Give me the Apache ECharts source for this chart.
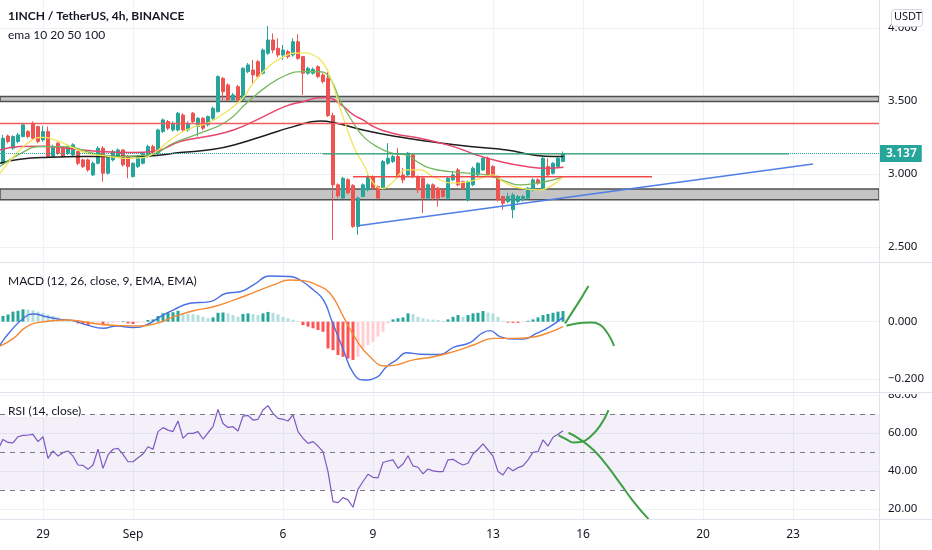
<!DOCTYPE html>
<html>
<head>
<meta charset="utf-8">
<script src="https://cdn.jsdelivr.net/npm/echarts@6/dist/echarts.min.js"></script>
<style>html,body{margin:0;padding:0;background:#fff}#chart{width:932px;height:550px}</style>
</head>
<body>
<div id="chart"></div>
<script>
const FONT = 'Noto Sans';

// x is counted in 4h bars from Sep 1 00:00
const dayTicks = [-18, 0, 30, 48, 72, 90, 114, 132];
const dayLabels = ['29', 'Sep', '6', '9', '13', '16', '20', '23'];
const priceTicks = [2.5, 3.0, 3.5, 4.0];
const macdTicks = [-0.2, 0];
const rsiTicks = [20, 40, 60, 80];

// candles [open, close, low, high], first one at bar -26
const firstBar = -26;
const candles = [
  [3.073, 3.244, 3.062, 3.267], [3.260, 3.222, 3.210, 3.270], [3.176, 3.256, 3.165, 3.265], [3.222, 3.267, 3.210, 3.280],
  [3.256, 3.336, 3.250, 3.350], [3.290, 3.256, 3.245, 3.300], [3.347, 3.244, 3.235, 3.360], [3.324, 3.222, 3.210, 3.330],
  [3.233, 3.290, 3.220, 3.330], [3.290, 3.119, 3.110, 3.325], [3.119, 3.187, 3.110, 3.200], [3.210, 3.142, 3.130, 3.220],
  [3.176, 3.119, 3.110, 3.190], [3.142, 3.187, 3.130, 3.200], [3.130, 3.199, 3.120, 3.210], [3.153, 3.073, 3.060, 3.165],
  [3.096, 3.050, 3.040, 3.105], [3.096, 3.027, 3.015, 3.105], [2.993, 3.073, 2.985, 3.085], [3.073, 3.176, 3.065, 3.190],
  [3.176, 3.005, 2.947, 3.190], [3.005, 3.119, 2.995, 3.130], [3.096, 3.153, 3.085, 3.165], [3.119, 3.164, 3.110, 3.175],
  [3.164, 3.062, 3.050, 3.170], [3.119, 3.050, 2.970, 3.130], [2.982, 3.073, 2.975, 3.080], [3.050, 3.119, 3.040, 3.130],
  [3.073, 3.142, 3.065, 3.150], [3.119, 3.187, 3.110, 3.200], [3.187, 3.142, 3.130, 3.200], [3.142, 3.301, 3.130, 3.310],
  [3.290, 3.370, 3.280, 3.380], [3.359, 3.313, 3.300, 3.370], [3.301, 3.347, 3.290, 3.360], [3.301, 3.416, 3.290, 3.425],
  [3.404, 3.301, 3.290, 3.415], [3.301, 3.347, 3.290, 3.360], [3.416, 3.359, 3.350, 3.425], [3.324, 3.381, 3.256, 3.390],
  [3.381, 3.313, 3.300, 3.390], [3.336, 3.393, 3.325, 3.400], [3.381, 3.450, 3.370, 3.460], [3.427, 3.667, 3.420, 3.675],
  [3.655, 3.564, 3.507, 3.665], [3.610, 3.507, 3.500, 3.620], [3.507, 3.541, 3.495, 3.555], [3.598, 3.507, 3.495, 3.610],
  [3.507, 3.724, 3.500, 3.730], [3.701, 3.747, 3.690, 3.760], [3.712, 3.678, 3.621, 3.781], [3.769, 3.667, 3.655, 3.780],
  [3.690, 3.849, 3.680, 3.860], [3.827, 3.918, 3.815, 4.014], [3.918, 3.849, 3.827, 3.963], [3.861, 3.815, 3.800, 3.930],
  [3.815, 3.849, 3.781, 3.884], [3.838, 3.804, 3.790, 3.850], [3.815, 3.906, 3.804, 3.929], [3.906, 3.792, 3.781, 3.957],
  [3.804, 3.690, 3.541, 3.810], [3.690, 3.724, 3.680, 3.735], [3.690, 3.717, 3.680, 3.730], [3.735, 3.667, 3.655, 3.745],
  [3.678, 3.633, 3.620, 3.690], [3.655, 3.400, 3.390, 3.700], [3.400, 2.925, 2.548, 3.420], [2.925, 2.850, 2.834, 2.935],
  [2.834, 2.970, 2.830, 2.980], [2.960, 2.870, 2.860, 2.970], [2.920, 2.640, 2.630, 2.930], [2.639, 2.834, 2.582, 2.845],
  [2.845, 2.925, 2.840, 2.935], [2.890, 2.982, 2.880, 2.990], [2.982, 2.902, 2.890, 2.990], [2.913, 2.834, 2.825, 2.920],
  [2.902, 3.085, 2.890, 3.095], [3.073, 3.107, 3.062, 3.210], [3.085, 3.119, 3.075, 3.130], [3.119, 2.982, 2.970, 3.176],
  [2.993, 2.959, 2.936, 3.039], [2.993, 3.142, 2.980, 3.150], [3.130, 2.982, 2.970, 3.140], [2.982, 2.890, 2.870, 2.990],
  [2.970, 2.834, 2.731, 2.980], [2.834, 2.925, 2.820, 2.935], [2.925, 2.834, 2.820, 2.935], [2.902, 2.834, 2.776, 2.910],
  [2.890, 2.845, 2.835, 2.900], [2.834, 2.970, 2.825, 2.980], [2.959, 2.993, 2.950, 3.020], [3.027, 2.925, 2.915, 3.040],
  [2.947, 2.902, 2.890, 2.955], [2.822, 2.947, 2.810, 2.955], [2.925, 3.039, 2.915, 3.050], [2.993, 3.073, 2.985, 3.080],
  [3.027, 3.107, 3.020, 3.120], [3.107, 2.993, 2.985, 3.119], [3.050, 2.982, 2.975, 3.060], [2.982, 2.822, 2.810, 2.990],
  [2.845, 2.799, 2.754, 2.850], [2.811, 2.845, 2.799, 2.870], [2.754, 2.856, 2.696, 2.870], [2.811, 2.845, 2.800, 2.855],
  [2.822, 2.845, 2.810, 2.855], [2.834, 2.902, 2.825, 2.910], [2.890, 2.959, 2.880, 2.970], [2.959, 2.936, 2.925, 2.970],
  [2.902, 3.107, 2.890, 3.119], [3.050, 2.993, 2.985, 3.107], [3.005, 3.073, 2.995, 3.080], [3.050, 3.107, 3.040, 3.115],
  [3.085, 3.137, 3.080, 3.153]
];

// moving averages, [bar, value]
const ema10 = [[-26.6, 3.005], [-23, 3.15], [-20, 3.235], [-18, 3.25], [-15, 3.225], [-12, 3.18], [-9, 3.14], [-5, 3.12],
  [-1, 3.107], [2, 3.112], [4.5, 3.15], [7, 3.22], [9.5, 3.28], [12, 3.32], [15, 3.35], [18, 3.41], [20, 3.46], [22, 3.52],
  [24, 3.62], [26, 3.70], [28, 3.76], [30, 3.80], [32, 3.827], [34, 3.83], [36, 3.815], [38, 3.76], [39.5, 3.66], [41, 3.50],
  [42.7, 3.32], [44.5, 3.16], [46, 3.073], [48, 2.94], [50, 2.90], [52, 2.945], [54.7, 3.027], [57.4, 3.027], [60, 2.982],
  [64, 2.936], [67, 2.947], [69.5, 2.97], [72, 2.993], [74, 2.947], [77.4, 2.902], [80.7, 2.89], [83.4, 2.913], [86, 2.982]];
const ema20 = [[-26.6, 3.05], [-22.6, 3.137], [-18.6, 3.187], [-13.3, 3.187], [-8, 3.142], [-2.6, 3.119], [3.4, 3.13],
  [8, 3.21], [13.4, 3.279], [18.7, 3.359], [22.7, 3.484], [26.7, 3.598], [30.7, 3.678], [34, 3.701], [37.4, 3.70],
  [39.4, 3.655], [41.4, 3.507], [44.1, 3.347], [46.4, 3.245], [49.4, 3.176], [52, 3.14], [54.7, 3.13], [57, 3.08],
  [59.4, 3.039], [63.4, 3.016], [66.9, 3.005], [70.7, 2.993], [74.7, 2.947], [77.4, 2.925], [80.7, 2.936], [84.1, 2.959], [86.1, 2.982]];
const ema50 = [[-26.6, 3.164], [-22.6, 3.187], [-17.9, 3.19], [-13.3, 3.176], [-6.6, 3.153], [0, 3.146], [4.1, 3.153],
  [9.4, 3.222], [14.7, 3.256], [20.1, 3.301], [25.4, 3.381], [30.7, 3.466], [34, 3.495], [37.4, 3.522], [38.7, 3.523],
  [41.4, 3.48], [44.1, 3.404], [46, 3.37], [48.1, 3.324], [50.7, 3.29], [53.4, 3.267], [57.4, 3.244], [64.1, 3.187],
  [68.7, 3.13], [73.4, 3.085], [78.7, 3.05], [82.7, 3.039], [86.1, 3.046]];
const ema100 = [[-26.6, 3.073], [-22.6, 3.10], [-16.6, 3.114], [-9.9, 3.119], [-3.3, 3.119], [3.4, 3.123], [9.4, 3.146],
  [16.1, 3.169], [21.4, 3.21], [26.7, 3.267], [32.1, 3.324], [37.4, 3.362], [40.1, 3.352], [46, 3.301], [52.7, 3.256],
  [59.4, 3.222], [67.4, 3.187], [74.7, 3.164], [80.1, 3.130], [84.1, 3.119], [86.1, 3.119]];

// drawn levels
const upperZone = [3.497, 3.530];
const lowerZone = [2.822, 2.897];
const redLevel = 3.354;
const greenLine = [[38, 3.137], [131.2, 3.137]];
const redLine = [[44, 2.981], [103.8, 2.981]];
const trendLine = [[45, 2.644], [136, 3.067]];

// MACD pane
const macdHist = [
  0.020, 0.025, 0.035, 0.038, 0.043, 0.042, 0.040, 0.035, 0.031, 0.025, 0.020, 0.015, 0.010, 0.006, 0.002,
  -0.006, -0.008, -0.012, -0.006, -0.004, -0.012, -0.007, -0.004, -0.002, 0.002, -0.006,
  -0.008, -0.004, -0.002, 0.006, 0.008, 0.020, 0.029, 0.032, 0.033, 0.038,
  0.029, 0.027, 0.026, 0.023, 0.017, 0.012, 0.015, 0.031, 0.032, 0.029, 0.023, 0.017, 0.027, 0.029, 0.027, 0.023,
  0.029, 0.034, 0.031, 0.025, 0.017, 0.012, 0.007, 0.002,
  -0.012, -0.017, -0.023, -0.029, -0.035, -0.093, -0.099, -0.116, -0.122, -0.128, -0.133, -0.122, -0.093, -0.081,
  -0.070, -0.052, -0.035, -0.006,
  0.008, 0.012, 0.015, 0.029, 0.027, 0.017, 0.012, 0.008, 0.007, 0.006, 0.003, 0.008, 0.017, 0.023, 0.017, 0.023,
  0.029, 0.031, 0.037, 0.032, 0.029, 0.017, 0.003, -0.003, -0.004, -0.004, -0.002, 0.003, 0.008, 0.015, 0.023,
  0.027, 0.031, 0.035, 0.037
];
const macdLine = [[-26.6, -0.081], [-24.6, -0.035], [-21.9, 0.012], [-19.9, 0.027], [-17.3, 0.017], [-14.6, 0.008],
  [-11.9, 0.0035], [-9.3, -0.011], [-5.9, -0.023], [-3.3, -0.015], [0, -0.020], [2.7, -0.011], [5.4, 0.017], [8.1, 0.041],
  [11.4, 0.064], [15.4, 0.070], [18.7, 0.099], [21.4, 0.104], [24.1, 0.128], [27.4, 0.159], [31.4, 0.157], [33.4, 0.145],
  [36.1, 0.110], [38.1, 0.075], [39.7, 0.006], [42.1, -0.099], [44.1, -0.180], [46.1, -0.203], [48.7, -0.194],
  [50.7, -0.157], [52.7, -0.133], [54.7, -0.108], [57.4, -0.113], [61.4, -0.114], [64.1, -0.089], [67.4, -0.073],
  [69.7, -0.041], [71.4, -0.031], [73.4, -0.052], [76.1, -0.060], [78.1, -0.060], [80.7, -0.041], [83.4, -0.017], [86, 0.015]];
const signalLine = [[-26.6, -0.085], [-23.9, -0.058], [-21.3, -0.018], [-17.9, 0], [-13.3, 0.006], [-9.9, 0], [-6.6, -0.009],
  [-3.3, -0.013], [1.4, -0.015], [4.7, -0.006], [8.1, 0.017], [12.1, 0.038], [16.1, 0.052], [20.1, 0.075], [24.1, 0.101],
  [28.1, 0.128], [31.4, 0.145], [34.1, 0.143], [36.7, 0.128], [39.4, 0.099], [42.1, 0.017], [44.7, -0.064], [47.4, -0.122],
  [50.4, -0.154], [52.7, -0.150], [56.1, -0.133], [60.1, -0.122], [64.1, -0.104], [68.1, -0.081], [72.1, -0.058],
  [76.1, -0.058], [79.4, -0.055], [82.7, -0.041], [86, -0.017]];
const macdArrowUp = [[86.4, -0.006], [87.7, 0.029], [89.4, 0.075], [90.4, 0.104], [91.1, 0.124]];
const macdArrowDown = [[86.7, -0.014], [88.7, -0.006], [91.4, -0.003], [93.4, -0.011], [94.7, -0.035], [95.7, -0.064], [96.2, -0.084]];

// RSI pane, first value at bar -27
const rsiFirst = -27;
const rsi = [
  51.4, 56.6, 55.0, 54.8, 58.0, 58.7, 58.9, 59.2, 55.4, 58.0, 46.6, 50.5, 47.8, 49.6, 50.5, 47.8, 43.1, 42.9, 40.8, 43.1,
  51.5, 41.3, 48.4, 51.4, 51.9, 48.7, 44.8, 44.8, 46.9, 48.9, 52.7, 51.4, 60.7, 62.8, 61.5, 60.7, 66.3, 57.1, 59.8, 59.8,
  60.7, 56.8, 60.1, 63.3, 72.4, 65.0, 62.9, 63.3, 61.0, 68.9, 69.3, 66.8, 67.2, 72.1, 74.4, 70.3, 67.7, 67.2, 66.3, 69.5,
  60.7, 57.2, 54.5, 55.4, 53.1, 50.1, 39.6, 23.8, 23.2, 25.9, 24.7, 20.8, 30.3, 34.4, 38.2, 36.6, 36.3, 44.4, 45.2, 45.8,
  41.4, 43.6, 48.0, 42.6, 41.9, 38.4, 41.0, 40.0, 39.6, 39.6, 45.8, 46.1, 44.4, 43.1, 44.0, 48.9, 51.4, 54.2, 51.0, 47.8,
  39.6, 37.8, 41.9, 40.1, 41.7, 42.6, 45.8, 49.8, 50.1, 56.3, 53.1, 57.7, 59.3, 61.1
];
const rsiArrowUp = [[85.1, 58.9], [86.7, 56.6], [88.1, 55.0], [89.7, 55.3], [91.4, 57.9], [93.4, 63.7], [95.1, 72.1]];
const rsiArrowDown = [[87.1, 60.1], [89.4, 56.6], [92.1, 51.0], [94.7, 43.1], [97.4, 33.5], [100.1, 23.8], [103.1, 14.5]];

const candleData = candles.map((c, i) => [firstBar + i, c[0], c[1], c[2], c[3]]);
const lastClose = candles[candles.length - 1][1];
const histData = macdHist.map((v, i) => [firstBar + i, v]);
const rsiData = rsi.map((v, i) => [rsiFirst + i, v]);

function histColor (p) {
  const i = p.dataIndex;
  const v = macdHist[i];
  const prev = i > 0 ? macdHist[i - 1] : v;
  if (v >= 0) return v >= prev ? '#26a69a' : '#b2dfdb';
  return v <= prev ? '#ff5252' : '#ffcdd2';
}

function xAx (i, showLabel) {
  return {
    type: 'value', gridIndex: i, min: -26.6, max: 149.2,
    axisLine: { show: false },
    axisTick: { show: false, customValues: dayTicks },
    splitLine: { show: true, lineStyle: { color: '#eef1f6', width: 1 } },
    axisLabel: showLabel
      ? { customValues: dayTicks, formatter: v => dayLabels[dayTicks.indexOf(v)], color: '#131722', fontSize: 12, margin: 10, fontFamily: FONT }
      : { show: false }
  };
}
function yAx (i, min, max, ticks, fmt) {
  return {
    type: 'value', gridIndex: i, position: 'right', min: min, max: max,
    axisLine: { show: false },
    axisTick: { show: false, customValues: ticks },
    splitLine: { show: true, lineStyle: { color: '#eef1f6', width: 1 } },
    axisLabel: { customValues: ticks, formatter: fmt, color: '#131722', fontSize: 11.5, margin: 9, fontFamily: FONT }
  };
}
function line (xi, data, color, width, smooth) {
  return {
    type: 'line', xAxisIndex: xi, yAxisIndex: xi, data: data, symbol: 'none', smooth: smooth,
    lineStyle: { color: color, width: width }, silent: true
  };
}

const TXT = '"Lato", "Noto Sans", sans-serif';

const myChart = echarts.init(document.getElementById('chart'));
myChart.setOption({
  animation: false,
  backgroundColor: '#ffffff',
  grid: [
    { left: 0, right: 53, top: 0, height: 262 },
    { left: 0, right: 53, top: 262, height: 130 },
    { left: 0, right: 53, top: 392, height: 127 }
  ],
  xAxis: [xAx(0, false), xAx(1, false), xAx(2, true)],
  yAxis: [
    yAx(0, 2.396, 4.192, priceTicks, v => v.toFixed(3)),
    yAx(1, -0.2445, 0.2076, macdTicks, v => (v < 0 ? '\u2212' : '') + Math.abs(v).toFixed(3)),
    yAx(2, 14.6, 81.6, rsiTicks, v => v.toFixed(2))
  ],
  series: [
    // zones and the red level
    {
      type: 'line', xAxisIndex: 0, yAxisIndex: 0, data: [], silent: true,
      markArea: {
        silent: true,
        itemStyle: { color: '#c4c4c4', borderColor: '#505050', borderWidth: 1.5 },
        data: [
          [{ yAxis: upperZone[0] }, { yAxis: upperZone[1] }],
          [{ yAxis: lowerZone[0] }, { yAxis: lowerZone[1] }]
        ]
      },
      markLine: {
        silent: true, symbol: 'none', label: { show: false },
        lineStyle: { color: '#f25c5c', width: 1.3, type: 'solid' },
        data: [{ yAxis: redLevel }]
      }
    },
    {
      type: 'candlestick', xAxisIndex: 0, yAxisIndex: 0, data: candleData, barWidth: 3,
      encode: { x: 0, y: [1, 2, 3, 4] },
      itemStyle: { color: '#26a69a', color0: '#ef5350', borderColor: '#26a69a', borderColor0: '#ef5350', borderWidth: 1 },
      markLine: {
        silent: true, symbol: 'none',
        lineStyle: { color: '#26a69a', width: 1, type: 'dotted' },
        label: {
          show: true, position: 'end', distance: 1, formatter: lastClose.toFixed(3),
          backgroundColor: '#26a69a', color: '#ffffff', padding: [3, 5, 2, 6], fontSize: 12,
          fontFamily: FONT, fontWeight: 600
        },
        data: [{ yAxis: lastClose }]
      }
    },
    line(0, ema100, '#1e1e1e', 1.5, true),
    line(0, ema50, '#e8456b', 1.5, true),
    line(0, ema20, '#74b95e', 1.3, true),
    line(0, ema10, '#f0e55a', 1.3, true),
    line(0, greenLine, '#3d9a63', 1.3, false),
    line(0, redLine, '#f04a4a', 1.5, false),
    line(0, trendLine, '#4d7fe6', 1.5, false),
    // MACD
    {
      type: 'bar', xAxisIndex: 1, yAxisIndex: 1, data: histData, barWidth: 3, silent: true,
      itemStyle: { color: histColor }
    },
    line(1, macdLine, '#4a6fe3', 1.4, true),
    line(1, signalLine, '#f58a32', 1.4, true),
    line(1, macdArrowUp, '#3f9f45', 2, true),
    line(1, macdArrowDown, '#3f9f45', 2, true),
    // RSI
    {
      type: 'line', xAxisIndex: 2, yAxisIndex: 2, data: rsiData, symbol: 'none', silent: true,
      lineStyle: { color: '#7e57c2', width: 1.2 },
      markArea: {
        silent: true, itemStyle: { color: 'rgba(126,87,194,0.09)' },
        data: [[{ yAxis: 30 }, { yAxis: 70 }]]
      },
      markLine: {
        silent: true, symbol: 'none', label: { show: false },
        lineStyle: { color: '#787b86', width: 1, type: [5, 5] },
        data: [{ yAxis: 70 }, { yAxis: 50 }, { yAxis: 30 }]
      }
    },
    line(2, rsiArrowUp, '#3f9f45', 2, true),
    line(2, rsiArrowDown, '#3f9f45', 2, true)
  ],
  graphic: [
    { type: 'rect', z: 100, shape: { x: 880, y: 384, width: 52, height: 10 }, style: { fill: '#fff' } },
    { type: 'line', z: 101, shape: { x1: 0, y1: 262.5, x2: 932, y2: 262.5 }, style: { stroke: '#e0e3eb', lineWidth: 1 } },
    { type: 'line', z: 101, shape: { x1: 0, y1: 392.5, x2: 932, y2: 392.5 }, style: { stroke: '#e0e3eb', lineWidth: 1 } },
    { type: 'line', z: 101, shape: { x1: 0, y1: 519.5, x2: 932, y2: 519.5 }, style: { stroke: '#e0e3eb', lineWidth: 1 } },
    { type: 'line', z: 101, shape: { x1: 879.5, y1: 0, x2: 879.5, y2: 550 }, style: { stroke: '#e0e3eb', lineWidth: 1 } },
    { type: 'rect', z: 102, shape: { x: 891.5, y: 9.5, width: 31, height: 17, r: 3 }, style: { fill: '#fff', stroke: '#d1d4dc', lineWidth: 1 } },
    { type: 'text', z: 103, left: 894, top: 11.5, style: { text: 'USDT', font: '11px "Noto Sans"', fill: '#131722' } },
    { type: 'text', z: 103, left: 8, top: 10, style: { text: '1INCH / TetherUS, 4h, BINANCE', font: 'bold 12px ' + TXT, fill: '#131722' } },
    { type: 'text', z: 103, left: 8, top: 29, style: { text: 'ema 10 20 50 100', font: '12px ' + TXT, fill: '#131722' } },
    { type: 'text', z: 103, left: 8, top: 275, style: { text: 'MACD (12, 26, close, 9, EMA, EMA)', font: '12px ' + TXT, fill: '#131722' } },
    { type: 'text', z: 103, left: 8, top: 405, style: { text: 'RSI (14, close)', font: '12px ' + TXT, fill: '#131722', backgroundColor: '#ffffff' } }
  ]
});
</script>
</body>
</html>
